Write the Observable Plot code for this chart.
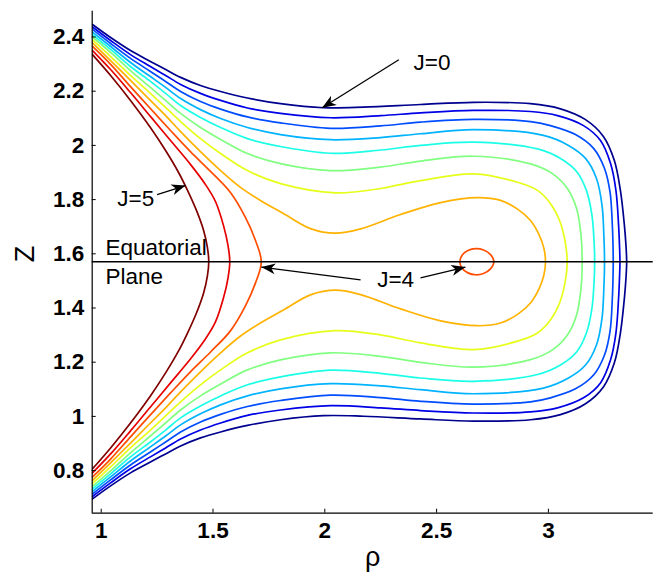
<!DOCTYPE html>
<html>
<head>
<meta charset="utf-8">
<script src="https://cdn.jsdelivr.net/npm/d3@7"></script>
<script src="https://cdn.jsdelivr.net/npm/@observablehq/plot@0.6"></script>
<style>
  html, body { margin: 0; padding: 0; background: #fff; }
  #chart svg { display: block; }
</style>
</head>
<body>
<div id="chart"></div>
<script>
// ---- data ----
const EQ = 1.5708; // equatorial plane (z = pi/2)

const levels = [0, 0.5, 1, 1.5, 2, 2.5, 3, 3.5, 4, 4.5, 5];
const jetColors = ["#00008f", "#0000e6", "#004dff", "#00b3ff", "#1affe6", "#80ff80",
                   "#e6ff1a", "#ffb300", "#ff4d00", "#e60000", "#800000"];

// upper halves (rho, z) from the left edge to the equatorial plane
const curveJ0 = [[0.961,2.446],[1.042,2.398],[1.131,2.350],[1.220,2.310],[1.288,2.280],[1.355,2.251],[1.444,2.221],[1.534,2.199],[1.654,2.175],[1.802,2.154],[1.994,2.139],[2.173,2.141],[2.428,2.151],[2.665,2.159],[2.920,2.154],[3.054,2.135],[3.166,2.095],[3.246,2.033],[3.295,1.944],[3.322,1.834],[3.340,1.704],[3.347,1.630],[3.350,1.5708]];
const curveJ05 = [[0.961,2.437],[1.042,2.387],[1.131,2.335],[1.220,2.291],[1.288,2.258],[1.355,2.225],[1.444,2.192],[1.534,2.166],[1.654,2.138],[1.802,2.118],[2.026,2.102],[2.249,2.110],[2.428,2.120],[2.665,2.129],[2.920,2.125],[3.041,2.110],[3.157,2.073],[3.233,2.018],[3.278,1.933],[3.302,1.834],[3.314,1.704],[3.318,1.630],[3.320,1.5708]];
const curveJ1 = [[0.961,2.428],[1.042,2.376],[1.131,2.321],[1.220,2.273],[1.288,2.236],[1.355,2.199],[1.444,2.162],[1.534,2.134],[1.654,2.105],[1.802,2.083],[2.026,2.063],[2.249,2.072],[2.428,2.086],[2.665,2.096],[2.920,2.088],[3.009,2.073],[3.121,2.040],[3.202,1.989],[3.251,1.915],[3.276,1.826],[3.286,1.704],[3.289,1.630],[3.290,1.5708]];
const curveJ15 = [[0.961,2.418],[1.042,2.365],[1.131,2.306],[1.220,2.254],[1.288,2.214],[1.355,2.173],[1.444,2.132],[1.534,2.099],[1.654,2.066],[1.802,2.040],[2.026,2.021],[2.249,2.029],[2.428,2.043],[2.665,2.058],[2.978,2.037],[3.090,2.000],[3.166,1.952],[3.215,1.878],[3.240,1.778],[3.248,1.668],[3.251,1.5708]];
const curveJ2 = [[0.961,2.409],[1.042,2.354],[1.131,2.291],[1.220,2.236],[1.288,2.192],[1.355,2.147],[1.444,2.103],[1.534,2.066],[1.654,2.025],[1.802,1.996],[2.026,1.971],[2.249,1.983],[2.428,2.000],[2.665,2.012],[2.951,1.987],[3.054,1.952],[3.126,1.904],[3.170,1.834],[3.195,1.741],[3.204,1.649],[3.207,1.5708]];
const curveJ25 = [[0.961,2.400],[1.042,2.343],[1.131,2.276],[1.220,2.214],[1.288,2.166],[1.355,2.118],[1.444,2.066],[1.534,2.022],[1.654,1.970],[1.802,1.933],[2.026,1.907],[2.249,1.920],[2.428,1.942],[2.665,1.960],[2.920,1.932],[3.018,1.896],[3.085,1.841],[3.126,1.767],[3.146,1.668],[3.151,1.5708]];
const curveJ3 = [[0.961,2.389],[1.042,2.328],[1.131,2.258],[1.220,2.192],[1.288,2.140],[1.355,2.088],[1.444,2.025],[1.534,1.970],[1.654,1.907],[1.802,1.859],[2.048,1.825],[2.249,1.841],[2.428,1.870],[2.665,1.895],[2.862,1.864],[2.951,1.834],[3.009,1.786],[3.050,1.723],[3.074,1.649],[3.084,1.5708]];
const curveJ35 = [[0.961,2.378],[1.042,2.313],[1.131,2.240],[1.220,2.166],[1.288,2.110],[1.355,2.051],[1.444,1.977],[1.534,1.907],[1.623,1.845],[1.712,1.797],[1.815,1.749],[1.936,1.693],[2.048,1.676],[2.160,1.692],[2.339,1.745],[2.518,1.789],[2.683,1.807],[2.786,1.797],[2.862,1.765],[2.920,1.723],[2.958,1.671],[2.980,1.620],[2.987,1.5708]];
const curveJ4 = [[0.961,2.365],[1.042,2.299],[1.131,2.217],[1.220,2.136],[1.310,2.055],[1.399,1.977],[1.489,1.904],[1.578,1.826],[1.645,1.734],[1.690,1.649],[1.716,1.5708]];
const curveJ45 = [[0.961,2.350],[1.042,2.280],[1.131,2.195],[1.220,2.107],[1.310,2.018],[1.399,1.930],[1.466,1.856],[1.511,1.793],[1.547,1.704],[1.567,1.631],[1.575,1.5708]];
const curveJ5 = [[0.961,2.335],[1.042,2.258],[1.131,2.166],[1.220,2.066],[1.288,1.981],[1.346,1.900],[1.386,1.834],[1.426,1.760],[1.458,1.686],[1.475,1.623],[1.481,1.5708]];
// small closed J=4 loop around the potential minimum (upper half)
const loopJ4 = [[2.604,1.5708],[2.614,1.595],[2.640,1.612],[2.675,1.619],[2.710,1.614],[2.740,1.598],[2.756,1.5708]];

const xTicks = [1, 1.5, 2, 2.5, 3];
const yTicks = [0.8, 1, 1.2, 1.4, 1.6, 1.8, 2, 2.2, 2.4];
const xDomain = [0.9597, 3.4687];
const yDomain = [0.6428, 2.4952];

const labelTexts = ["J=0", "J=5", "J=4", "Equatorial", "Plane"];
const labelRho = [2.397, 1.072, 2.234, 1.019, 1.019];
const labelZ = [2.278, 1.776, 1.477, 1.597, 1.490];

const arrowFromRho = [2.331, 1.250, 2.428, 2.160];
const arrowFromZ = [2.316, 1.818, 1.511, 1.504];
const arrowToRho = [1.988, 1.377, 2.629, 1.716];
const arrowToZ = [2.139, 1.852, 1.551, 1.551];

// ---- build tables ----
const curves = [curveJ0, curveJ05, curveJ1, curveJ15, curveJ2, curveJ25, curveJ3, curveJ35, curveJ4, curveJ45, curveJ5];
const mirror = ([r, z]) => [r, 2 * EQ - z];
const rows = [];
curves.forEach((upper, i) => {
  const full = upper.concat(upper.slice(0, -1).reverse().map(mirror));
  full.forEach(([rho, z]) => rows.push({J: levels[i], rho, z}));
});
const loopRows = loopJ4.concat(loopJ4.slice(1, -1).reverse().map(mirror))
  .map(([rho, z]) => ({J: 4, rho, z}));
const labels = labelTexts.map((t, i) => ({t, rho: labelRho[i], z: labelZ[i]}));
const arrows = arrowFromRho.map((r, i) => ({x1: r, y1: arrowFromZ[i], x2: arrowToRho[i], y2: arrowToZ[i]}));

function dart(color, context) {
  const ns = "http://www.w3.org/2000/svg";
  const m = document.createElementNS(ns, "marker");
  m.setAttribute("viewBox", "-15 -7 16 14");
  m.setAttribute("markerWidth", 16);
  m.setAttribute("markerHeight", 14);
  m.setAttribute("markerUnits", "userSpaceOnUse");
  m.setAttribute("orient", "auto");
  const p = document.createElementNS(ns, "path");
  p.setAttribute("d", "M0,0L-14,-5.5L-10,0L-14,5.5Z");
  p.setAttribute("fill", "black");
  p.setAttribute("stroke", "none");
  m.appendChild(p);
  return m;
}

const font = "'Liberation Sans', Arial, Helvetica, sans-serif";

function build(useMarker) {
  const arrowMark = useMarker
    ? Plot.link(arrows, {x1: "x1", y1: "y1", x2: "x2", y2: "y2", stroke: "black", strokeWidth: 1.3, markerEnd: dart})
    : Plot.arrow(arrows, {x1: "x1", y1: "y1", x2: "x2", y2: "y2", stroke: "black", strokeWidth: 1.3, headLength: 12});
  return Plot.plot({
    width: 660,
    height: 574,
    marginLeft: 91.7,
    marginRight: 7.3,
    marginTop: 10.7,
    marginBottom: 61.3,
    style: {fontFamily: font, background: "white", color: "black"},
    x: {domain: xDomain},
    y: {domain: yDomain},
    color: {type: "ordinal", domain: levels, range: jetColors},
    marks: [
      Plot.line(rows, {x: "rho", y: "z", z: "J", stroke: "J", strokeWidth: 1.7, curve: "catmull-rom", clip: true}),
      Plot.line(loopRows, {x: "rho", y: "z", stroke: "J", strokeWidth: 1.7, curve: "catmull-rom-closed", clip: true}),
      Plot.ruleY([EQ], {stroke: "black", strokeWidth: 1.5}),
      Plot.ruleX([xDomain[0]], {stroke: "black", strokeWidth: 1.2}),
      Plot.ruleY([yDomain[0]], {stroke: "black", strokeWidth: 1.2}),
      Plot.axisX({ticks: xTicks, tickFormat: (d) => String(d), tickSize: -4, tickPadding: 12.6,
                  fontSize: 22.5, fontWeight: "bold", label: null}),
      Plot.axisY({ticks: yTicks, tickFormat: (d) => String(d), tickSize: -4, tickPadding: 12,
                  fontSize: 22.5, fontWeight: "bold", label: null}),
      Plot.text(["Z"], {frameAnchor: "left", dx: -67, rotate: -90, fontSize: 27, fill: "black"}),
      Plot.text(["ρ"], {frameAnchor: "bottom", dy: 53, lineAnchor: "bottom", fontSize: 27, fill: "black"}),
      Plot.text(labels, {x: "rho", y: "z", text: "t", textAnchor: "start", lineAnchor: "bottom", fontSize: 22.5, fill: "black"}),
      arrowMark
    ]
  });
}

let chart;
try { chart = build(true); } catch (e) { chart = build(false); }
document.getElementById("chart").appendChild(chart);
</script>
</body>
</html>
